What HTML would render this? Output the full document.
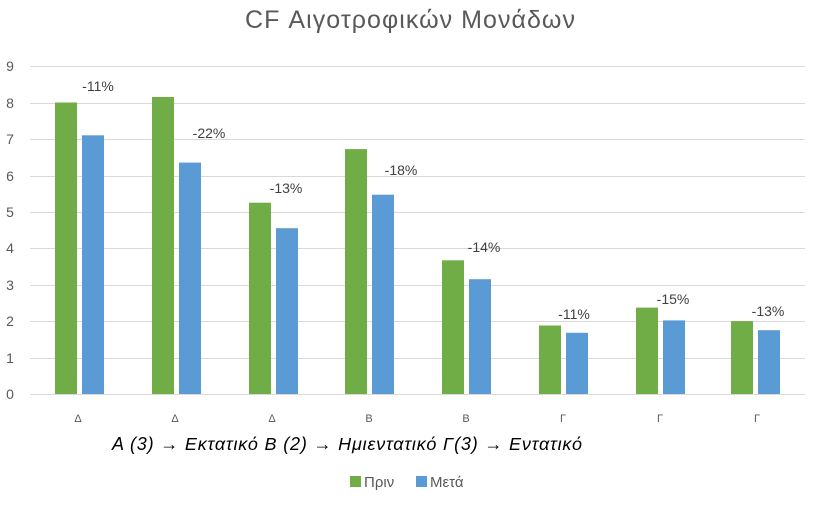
<!DOCTYPE html>
<html><head><meta charset="utf-8"><style>body{margin:0;background:#fff}svg{display:block}</style></head><body>
<svg width="817" height="505" viewBox="0 0 817 505" font-family="Liberation Sans, sans-serif">
<rect width="817" height="505" fill="#fff"/>
<text x="410" y="28" text-anchor="middle" font-size="25" textLength="330" fill="#595959">CF Αιγοτροφικών Μονάδων</text>
<g stroke="#d9d9d9" stroke-width="1">
<line x1="30" x2="805" y1="394.5" y2="394.5"/>
<line x1="30" x2="805" y1="358.5" y2="358.5"/>
<line x1="30" x2="805" y1="321.5" y2="321.5"/>
<line x1="30" x2="805" y1="285.5" y2="285.5"/>
<line x1="30" x2="805" y1="248.5" y2="248.5"/>
<line x1="30" x2="805" y1="212.5" y2="212.5"/>
<line x1="30" x2="805" y1="176.5" y2="176.5"/>
<line x1="30" x2="805" y1="139.5" y2="139.5"/>
<line x1="30" x2="805" y1="103.5" y2="103.5"/>
<line x1="30" x2="805" y1="66.5" y2="66.5"/>
</g>
<g font-size="14" fill="#595959" text-anchor="middle">
<text x="10" y="399">0</text><text x="10" y="363">1</text><text x="10" y="326">2</text><text x="10" y="290">3</text><text x="10" y="253">4</text><text x="10" y="217">5</text><text x="10" y="181">6</text><text x="10" y="144">7</text><text x="10" y="108">8</text><text x="10" y="71">9</text>
</g>
<g fill="#70AD47">
<rect x="55" y="102.5" width="22" height="291.5"/>
<rect x="152" y="97" width="22" height="297"/>
<rect x="249" y="202.7" width="22" height="191.3"/>
<rect x="345" y="149.1" width="22" height="244.9"/>
<rect x="442" y="260.3" width="22" height="133.7"/>
<rect x="539" y="325.5" width="22" height="68.5"/>
<rect x="636" y="307.6" width="22" height="86.4"/>
<rect x="731" y="321.1" width="22" height="72.9"/>
</g>
<g fill="#5B9BD5">
<rect x="82" y="135.3" width="22" height="258.7"/>
<rect x="179" y="162.6" width="22" height="231.4"/>
<rect x="276" y="228.2" width="22" height="165.8"/>
<rect x="372" y="194.7" width="22" height="199.3"/>
<rect x="469" y="279.2" width="22" height="114.8"/>
<rect x="566" y="332.8" width="22" height="61.2"/>
<rect x="663" y="320.4" width="22" height="73.6"/>
<rect x="758" y="330.2" width="22" height="63.8"/>
</g>
<g font-size="14" fill="#404040" text-anchor="middle">
<text x="98" y="91">-11%</text><text x="209" y="138">-22%</text><text x="286" y="193">-13%</text><text x="401" y="175">-18%</text><text x="484" y="252">-14%</text><text x="574" y="319">-11%</text><text x="673" y="304">-15%</text><text x="768" y="316">-13%</text>
</g>
<g font-size="11" fill="#595959" text-anchor="middle">
<text x="78" y="422">Δ</text><text x="175" y="422">Δ</text><text x="272" y="422">Δ</text><text x="369" y="422">Β</text><text x="466" y="422">Β</text><text x="563" y="422">Γ</text><text x="660" y="422">Γ</text><text x="757" y="422">Γ</text>
</g>
<text x="112" y="450" font-size="18" font-style="italic" fill="#000" textLength="470" lengthAdjust="spacing">A (3) → Εκτατικό  Β (2) → Ημιεντατικό  Γ(3) → Εντατικό</text>
<rect x="350" y="476" width="11" height="11" fill="#70AD47"/>
<text x="364" y="487" font-size="15" fill="#595959">Πριν</text>
<rect x="416" y="476" width="11" height="11" fill="#5B9BD5"/>
<text x="430" y="487" font-size="15" fill="#595959">Μετά</text>
</svg>
</body></html>
